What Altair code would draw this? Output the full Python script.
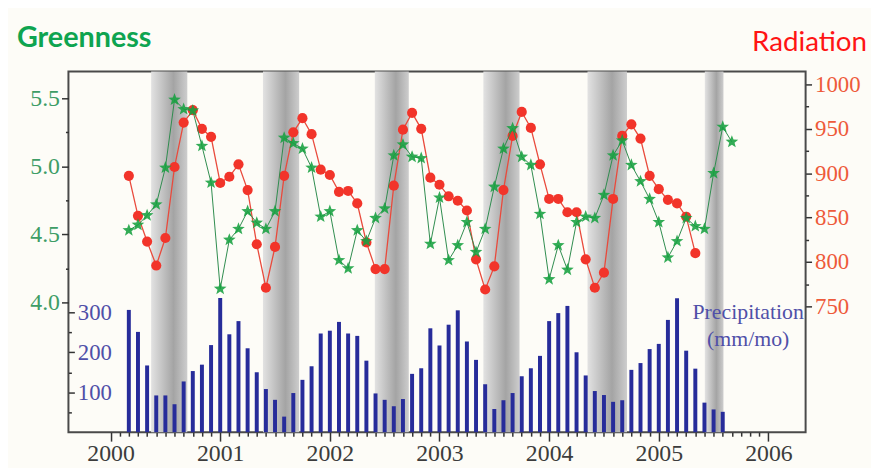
import altair as alt
import pandas as pd

# ---------------- data ----------------
first_year = 2000
# monthly precipitation (mm/mo), first bar = month index 2 after Jan 2000
precip_first = 2
precip = [306, 251, 167, 92, 92, 70, 127, 153, 169, 218,
          336, 245, 278, 210, 150, 108, 81, 39, 98, 131, 165, 247,
          254, 276, 247, 241, 179, 97, 81, 65, 83, 146, 160, 260,
          217, 269, 305, 227, 181, 120, 58, 80, 98, 140, 160, 191,
          278, 298, 316, 200, 142, 103, 93, 76, 80, 156, 173, 208,
          221, 281, 335, 204, 159, 74, 57, 51]
# radiation (red circles)
rad_first = 2
radiation = [897, 852, 823, 796, 827, 907, 957, 971, 950, 941,
             889, 896, 910, 881, 820, 771, 817, 897, 946, 962, 944, 904,
             898, 879, 880, 866, 822, 792, 792, 886, 949, 968, 950, 895,
             887, 874, 869, 858, 803, 769, 795, 881, 942, 969, 951, 910,
             871, 871, 856, 856, 803, 771, 788, 871, 942, 955, 939, 897,
             882, 870, 866, 851, 810]
# greenness (green stars)
green_first = 2
greenness = [4.53, 4.57, 4.64, 4.72, 4.99, 5.49, 5.42, 5.41, 5.15, 4.88,
             4.10, 4.46, 4.54, 4.67, 4.585, 4.54, 4.67, 5.21, 5.17, 5.13, 4.99, 4.63,
             4.67, 4.31, 4.25, 4.53, 4.45, 4.62, 4.69, 5.08, 5.16, 5.07, 5.06, 4.43,
             4.77, 4.31, 4.42, 4.59, 4.37, 4.54, 4.85, 5.13, 5.28, 5.07, 5.01, 4.65,
             4.17, 4.42, 4.24, 4.59, 4.63, 4.62, 4.79, 5.08, 5.19, 5.01, 4.89, 4.76,
             4.59, 4.33, 4.45, 4.62, 4.56, 4.54, 4.95, 5.29, 5.18]
# dry-season shaded bands (decimal years)
dry_start = [2000.37, 2001.39, 2002.41, 2003.40, 2004.35, 2005.42]
dry_end = [2000.70, 2001.72, 2002.72, 2003.73, 2004.71, 2005.59]

years = [2000, 2001, 2002, 2003, 2004, 2005, 2006]
green_ticks = [4.0, 4.25, 4.5, 4.75, 5.0, 5.25, 5.5]
rad_ticks = [750, 775, 800, 825, 850, 875, 900, 925, 950, 975, 1000]
precip_ticks = [50, 100, 150, 200, 250, 300]
month_ticks = [y + m / 12 for y in years[:-1] for m in range(12)] + [years[-1]]

# ---------------- tables ----------------
df_p = pd.DataFrame({"t": [first_year + (precip_first + i) / 12 for i in range(len(precip))],
                     "p": precip})
df_r = pd.DataFrame({"t": [first_year + (rad_first + i) / 12 for i in range(len(radiation))],
                     "r": radiation})
df_g = pd.DataFrame({"t": [first_year + (green_first + i) / 12 for i in range(len(greenness))],
                     "g": greenness})
df_b = pd.DataFrame({"s": dry_start, "e": dry_end})

W, H = 744, 364
SERIF = "Liberation Serif"
STAR = ("M0,-1 L0.247,-0.34 L0.951,-0.309 L0.399,0.13 L0.588,0.809 L0,0.42 "
        "L-0.588,0.809 L-0.399,0.13 L-0.951,-0.309 L-0.247,-0.34 Z")

x_scale = alt.Scale(domain=[1999.661, 2006.294], nice=False, zero=False)
x_axis = alt.Axis(
    values=month_ticks, title=None, grid=False, domain=False,
    labelExpr="abs(datum.value - round(datum.value)) < 0.001 ? format(round(datum.value), 'd') : ''",
    tickSize={"condition": {"test": "abs(datum.value - round(datum.value)) > 0.001", "value": 4}, "value": 9},
    tickColor="#333", tickWidth=1.5, labelFont=SERIF, labelFontSize=24, labelColor="#3c3c3c",
    labelPadding=1, labelOverlap=False, labelFlush=False)


def X(field="t"):
    return alt.X(f"{field}:Q", scale=x_scale, axis=x_axis)


grad = alt.Gradient(
    gradient="linear", x1=0, x2=1, y1=0, y2=0,
    stops=[alt.GradientStop(color="#e2e2e2", offset=0),
           alt.GradientStop(color="#a4a4a4", offset=0.62),
           alt.GradientStop(color="#cdcdcd", offset=1)])

bands = alt.Chart(df_b).mark_rect(color=grad).encode(
    x=alt.X("s:Q", scale=x_scale, axis=x_axis), x2="e:Q",
    y=alt.value(0), y2=alt.value(H))

precip_axis = alt.Axis(
    orient="right", offset=-W, values=precip_ticks, title=None, grid=False, domain=False,
    labelExpr="datum.value % 100 == 0 ? format(datum.value, 'd') : ''",
    tickSize={"condition": {"test": "datum.value % 100 != 0", "value": 3}, "value": 6},
    tickColor="#333", tickWidth=1.5, labelFont=SERIF, labelFontSize=23, labelColor="#4f4fa8",
    labelPadding=3, labelOverlap=False, labelFlush=False)

bars = alt.Chart(df_p).mark_bar(orient="vertical", size=4, color="#272c9a").encode(
    x=X(),
    y=alt.Y("p:Q", scale=alt.Scale(domain=[0, 902.5], nice=False), axis=precip_axis))

rad_axis = alt.Axis(
    orient="right", values=rad_ticks, title=None, grid=False, domain=False,
    labelExpr="datum.value % 50 == 0 ? format(datum.value, 'd') : ''",
    tickSize={"condition": {"test": "datum.value % 50 != 0", "value": 3}, "value": 6},
    tickColor="#333", tickWidth=1.5, labelFont=SERIF, labelFontSize=23, labelColor="#ee5a3a",
    labelPadding=3, labelOverlap=False, labelFlush=False)
rad_y = alt.Y("r:Q", scale=alt.Scale(domain=[608.3, 1014.5], nice=False, zero=False), axis=rad_axis)

red = alt.layer(
    alt.Chart(df_r).mark_line(color="#e94a3c", strokeWidth=1.3).encode(x=X(), y=rad_y),
    alt.Chart(df_r).mark_point(shape="circle", filled=True, size=105, color="#f2342a", opacity=1).encode(x=X(), y=rad_y),
)

green_axis = alt.Axis(
    orient="left", values=green_ticks, title=None, grid=False, domain=False,
    labelExpr="datum.value % 0.5 == 0 ? format(datum.value, '.1f') : ''",
    tickSize={"condition": {"test": "datum.value % 0.5 != 0", "value": 3}, "value": 7},
    tickColor="#333", tickWidth=1.5, labelFont=SERIF, labelFontSize=24, labelColor="#3e9d66",
    labelPadding=2, labelOverlap=False, labelFlush=False)
green_y = alt.Y("g:Q", scale=alt.Scale(domain=[3.046, 5.697], nice=False, zero=False), axis=green_axis)

green = alt.layer(
    alt.Chart(df_g).mark_line(color="#2f8c4e", strokeWidth=1).encode(x=X(), y=green_y),
    alt.Chart(df_g).mark_point(shape=STAR, filled=True, size=180, color="#17a040", opacity=0.88).encode(x=X(), y=green_y),
)

title_df = pd.DataFrame({"a": [0]})
t_green = alt.Chart(title_df).mark_text(
    text="Greenness", font="Lato", fontWeight="bold", fontSize=29, color="#0ea450",
    align="left", baseline="alphabetic").encode(x=alt.value(-52), y=alt.value(-25))
t_rad = alt.Chart(title_df).mark_text(
    text="Radiation", font="Lato", fontSize=28, color="#ff1414",
    align="right", baseline="alphabetic").encode(x=alt.value(806), y=alt.value(-21))
t_p1 = alt.Chart(title_df).mark_text(
    text="Precipitation", font=SERIF, fontSize=22, color="#5050a8",
    align="center", baseline="middle").encode(x=alt.value(686), y=alt.value(243))
t_p2 = alt.Chart(title_df).mark_text(
    text="(mm/mo)", font=SERIF, fontSize=22, color="#5050a8",
    align="center", baseline="middle").encode(x=alt.value(686), y=alt.value(270))

chart = alt.layer(
    bands, bars, red, green, t_green, t_rad, t_p1, t_p2
).resolve_scale(y="independent").properties(
    width=W, height=H,
    padding={"left": 61, "top": 62, "right": 66, "bottom": 34},
    autosize="none",
    background="#fdfcf7",
).configure_view(
    stroke="#4a4a4a", strokeWidth=2, fill="#fdfcf7"
).configure_axis(labelFont=SERIF)

chart.save("out.html", embed_options={"renderer": "svg", "actions": False})
